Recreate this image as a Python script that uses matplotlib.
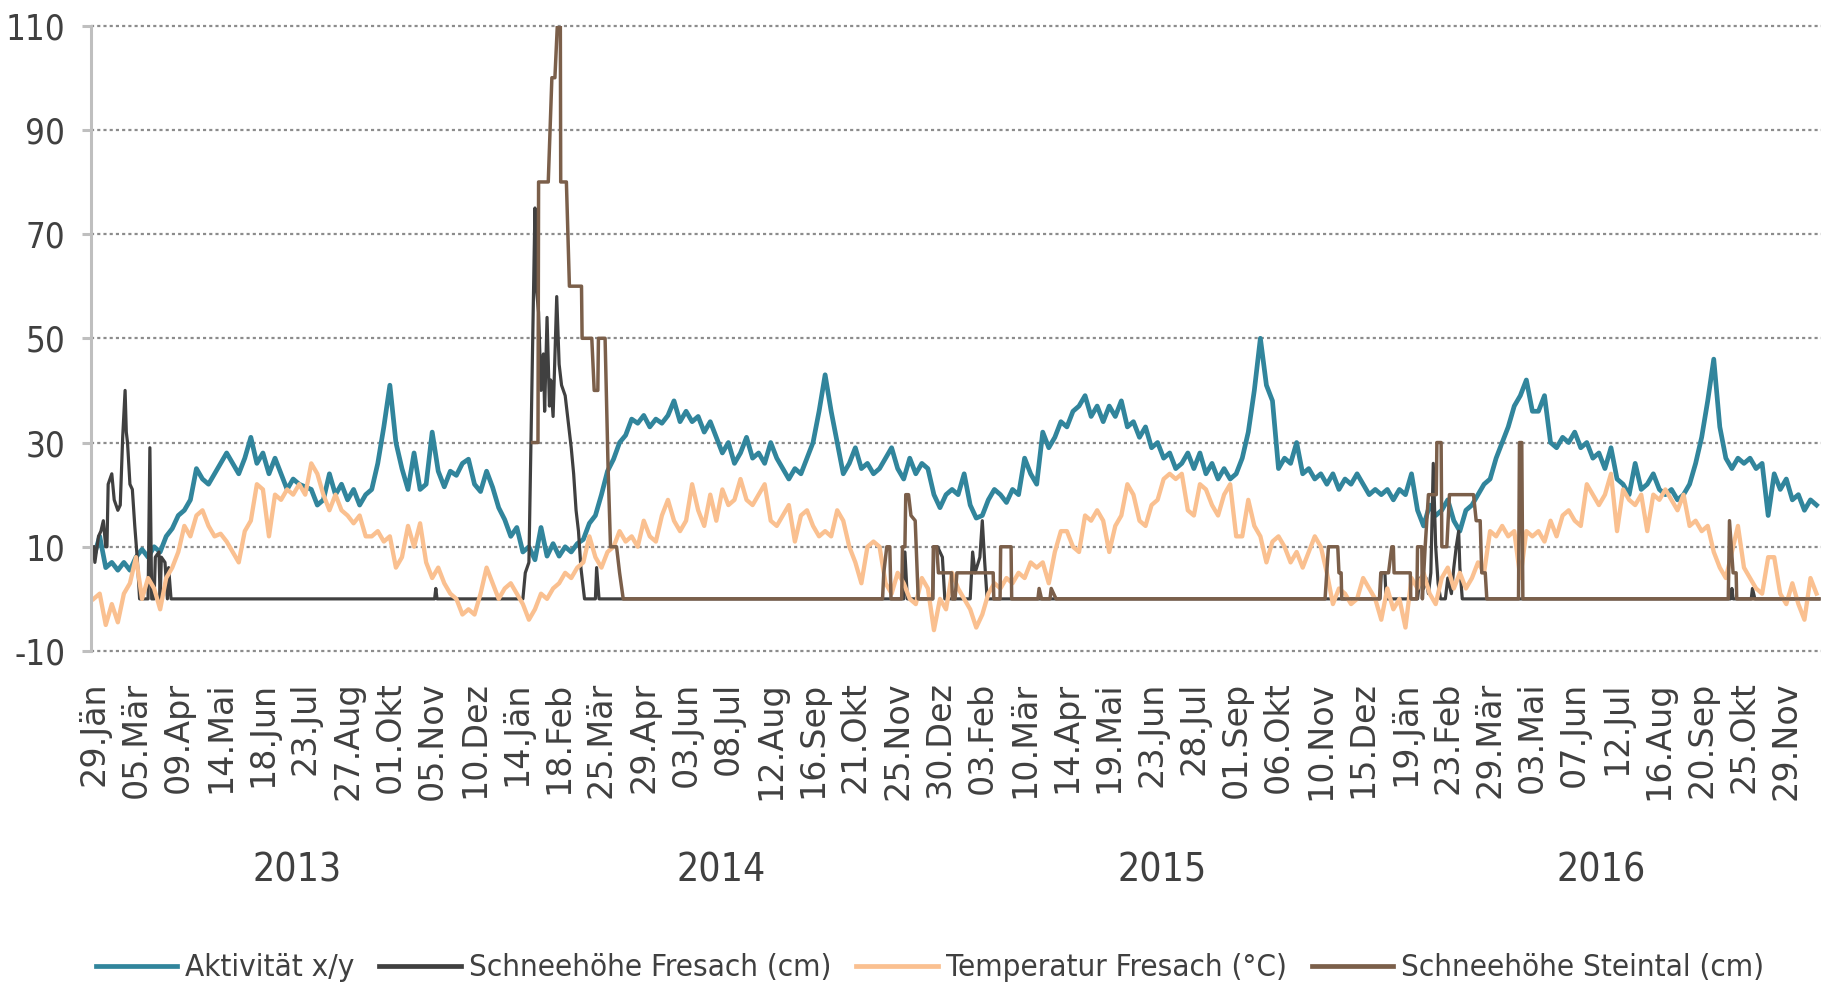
import numpy as np
import pandas as pd
import matplotlib
matplotlib.use('Agg')
import matplotlib.pyplot as plt
import matplotlib.transforms as mtransforms
from matplotlib.lines import Line2D
from matplotlib.font_manager import FontProperties

start = pd.Timestamp('2013-01-29')
ende_tag = 1427

# Aktivität x/y, ein Wert alle 5 Tage ab 29.01.2013
aktivitaet = [
    8, 12, 6, 7, 5.5, 7, 5.5, 8, 9.5, 8,
    10, 9, 12, 13.5, 16, 17, 19, 25, 23, 22,
    24, 26, 28, 26, 24, 27, 31, 26, 28, 24,
    27, 24, 21, 23, 22, 21.5, 21, 18, 19, 24,
    20, 22, 19, 21, 18, 20, 21, 26, 33, 41,
    30, 25, 21, 28, 21, 22, 32, 24.5, 21.5, 24.5,
    23.7, 26, 26.8, 22, 20.6, 24.5, 21.4, 17.5, 15.2, 12,
    13.7, 9, 10, 7.5, 13.7, 8.2, 10.6, 8.2, 10, 9,
    10.6, 11.4, 14.5, 16, 20, 24.5, 26.8, 30, 31.4, 34.5,
    33.7, 35.2, 33, 34.5, 33.7, 35.2, 38, 34, 36, 34,
    35, 32, 34, 31, 28, 30, 26, 28, 31, 27,
    28, 26, 30, 27, 25, 23, 25, 24, 27, 30,
    36, 43, 36, 30, 24, 26, 29, 25, 26, 24,
    25, 27, 29, 25, 23, 27, 24, 26, 25, 20,
    17.5, 20, 21, 20, 24, 18, 15.5, 16, 19, 21,
    20, 18.5, 21, 20, 27, 24, 22, 32, 29, 31,
    34, 33, 36, 37, 39, 35, 37, 34, 37, 35,
    38, 33, 34, 31, 33, 29, 30, 27, 28, 25,
    26, 28, 25, 28, 24, 26, 23, 25, 23, 24,
    27, 32, 40, 50, 41, 38, 25, 27, 26, 30,
    24, 25, 23, 24, 22, 24, 21, 23, 22, 24,
    22, 20, 21, 20, 21, 19, 21, 20, 24, 17,
    14, 18, 16, 17, 19, 15, 13, 17, 18, 20,
    22, 23, 27, 30, 33, 37, 39, 42, 36, 36,
    39, 30, 29, 31, 30, 32, 29, 30, 27, 28,
    25, 29, 23, 22, 20, 26, 21, 22, 24, 21,
    20, 21, 19, 20, 22, 26, 31, 38, 46, 33,
    27, 25, 27, 26, 27, 25, 26, 16, 24, 21,
    23, 19, 20, 17, 19, 18,
]

# Temperatur Fresach (°C), gleiches 5-Tage-Raster
temperatur = [
    0, 1, -5, -1, -4.5, 1, 3, 8, 0, 4,
    2, -2, 4, 6, 9, 14, 12, 16, 17, 14,
    12, 12.5, 11, 9, 7, 13, 15, 22, 21, 12,
    20, 19, 21, 20, 22, 20, 26, 24, 20, 17,
    20, 17, 16, 14.5, 16, 12, 12, 13, 11, 12,
    6, 8, 14, 10, 14.5, 7, 4, 6, 3, 1,
    0, -3, -2, -3, 1, 6, 3, 0, 2, 3,
    1, -1, -4, -2, 1, 0, 2, 3, 5, 4,
    6, 7, 12, 8, 6, 9, 10, 13, 11, 12,
    10, 15, 12, 11, 16, 19, 15, 13, 15, 22,
    17, 14, 20, 15, 21, 18, 19, 23, 19, 18,
    20, 22, 15, 14, 16, 18, 11, 16, 17, 14,
    12, 13, 12, 17, 15, 10, 7, 3, 10, 11,
    10, 3, 1, 5, 3, 0, -1, 4, 2, -6,
    0, -2, 5, 2, 0, -2, -5.5, -3, 1, 3,
    2, 4, 3, 5, 4, 7, 6, 7, 3, 9,
    13, 13, 10, 9, 16, 15, 17, 15, 9, 14,
    16, 22, 20, 15, 14, 18, 19, 23, 24, 23,
    24, 17, 16, 22, 21, 18, 16, 20, 22, 12,
    12, 19, 14, 12, 7, 11, 12, 10, 7, 9,
    6, 9, 12, 10, 5, -1, 2, 1, -1, 0,
    4, 2, 0, -4, 2, -2, 0, -5.5, 4, 2,
    5, 1, -1, 4, 6, 2, 5, 2, 4, 7,
    5, 13, 12, 14, 12, 13, 4, 13, 12, 13,
    11, 15, 12, 16, 17, 15, 14, 22, 20, 18,
    20, 24, 13, 21, 19, 18, 20, 13, 20, 19,
    21, 19, 17, 20, 14, 15, 13, 14, 9, 6,
    4, 9, 14, 6, 4, 2, 1, 8, 8, 1,
    -1, 3, -1, -4, 4, 1,
]

# Schneehöhe Fresach (cm): Tage ab 29.01.2013 und Wert
fresach_tag = (
    [0, 1, 4, 6, 8, 10, 11, 12, 15, 17, 20, 22, 24, 26, 27, 28, 30,
     32, 34, 36, 38, 45, 46.5, 48, 50, 51, 54, 55, 56, 59, 61, 62, 64]
    + [282, 283, 284]
    + [355, 357, 360, 365, 366, 368, 370, 372, 373, 375, 377, 378, 380, 383,
       385, 387, 390, 393, 395, 397, 399, 401, 403, 406, 415, 416, 418]
    + [670, 671, 673, 694, 695, 698, 702, 704, 725, 727, 729, 733, 735, 737, 739]
    + [1064, 1065, 1068, 1069, 1095, 1097, 1100, 1102, 1104, 1106, 1108,
       1110, 1112, 1114, 1118, 1120, 1123, 1125, 1127, 1129, 1130, 1132]
    + [1354, 1355, 1356, 1371, 1372, 1374, 1427]
)
fresach_cm = (
    [10, 7, 12, 13, 15, 10, 10, 22, 24, 19, 17, 18, 31, 40, 32, 30, 22,
     21, 14, 8, 0, 0, 29, 0, 0, 8, 9, 0, 8, 7, 0, 6, 0]
    + [0, 2, 0]
    + [0, 5, 7, 75, 60, 55, 40, 47, 36, 54, 37, 42, 35, 58,
       45, 41, 39, 33, 29, 24, 17, 13, 6, 0, 0, 6, 0]
    + [0, 9, 0, 0, 10, 10, 8, 0, 0, 9, 5, 8, 15, 7, 0]
    + [0, 5, 5, 0, 0, 4, 2, 4, 1, 5, 26,
       10, 3, 0, 0, 4, 1, 6, 10, 13, 6, 0]
    + [0, 2, 0, 0, 2, 0, 0]
)

# Schneehöhe Steintal (cm)
steintal_tag = (
    [363, 367.5, 368, 376, 379, 381.5, 383.5, 386, 386.3, 391, 393.5, 403.5,
     404, 412, 414, 417, 417.5, 423, 425.5, 427.5, 432.5, 435, 438]
    + [652.5, 653.5, 656, 658.5, 659.5, 668.3, 669, 671, 671.7, 674, 676,
       679.5, 682, 694, 694.5, 697.3, 698.7, 709.5, 710.3, 712.5, 714, 744,
       744.5, 749.7, 750.2, 758.8, 759.3, 781, 782, 784, 791, 792, 796]
    + [1018.5, 1021.3, 1029, 1030, 1031.8, 1032.3, 1063.5, 1064.6, 1071,
       1073.7, 1075, 1075.6, 1089, 1089.4, 1094.4, 1095, 1098.5, 1099, 1101.3,
       1104, 1110.5, 1111, 1114.5, 1115.1, 1119.2, 1121.4, 1141.3, 1143.5,
       1146.8, 1148.1, 1151, 1152.3, 1178.5, 1179.3, 1181.2, 1182.1]
    + [1352, 1353, 1356, 1358.5, 1359, 1427]
)
steintal_cm = (
    [30, 30, 80, 80, 100, 100, 110, 110, 80, 80, 60, 60,
     50, 50, 40, 40, 50, 50, 25, 10, 10, 5, 0]
    + [0, 5, 10, 10, 0, 0, 10, 10, 20, 20, 16,
       15, 0, 0, 10, 10, 5, 5, 0, 0, 5, 5,
       0, 0, 10, 10, 0, 0, 2, 0, 0, 2, 0]
    + [0, 10, 10, 5, 5, 0, 0, 5, 5,
       10, 10, 5, 5, 0, 0, 10, 10, 0, 10,
       20, 20, 30, 30, 10, 10, 20, 20, 15,
       15, 5, 5, 0, 0, 30, 30, 0]
    + [0, 15, 5, 5, 0, 0]
)

monate = ['Jän', 'Feb', 'Mär', 'Apr', 'Mai', 'Jun', 'Jul', 'Aug', 'Sep', 'Okt', 'Nov', 'Dez']
jahre = [2013, 2014, 2015, 2016]
namen = ['Aktivität x/y', 'Schneehöhe Fresach (cm)', 'Temperatur Fresach (°C)', 'Schneehöhe Steintal (cm)']
farben = ['#31859C', '#404040', '#FAC090', '#7B5F4A']

textfarbe = '#404040'


def schmal(size):
    return FontProperties(family='DejaVu Sans', stretch='condensed', size=size)


def datum(tage):
    return start + pd.to_timedelta(np.asarray(tage, dtype=float), unit='D')


raster = np.arange(len(aktivitaet)) * 5

fig = plt.figure(figsize=(18.23, 9.92), dpi=100)
ax = fig.add_axes([91 / 1823, 1 - 651 / 992, (1821 - 91) / 1823, (651 - 25.6) / 992])

ax.plot(datum(raster), aktivitaet, color=farben[0], lw=3.4, solid_joinstyle='round', label=namen[0])
ax.plot(datum(fresach_tag), fresach_cm, color=farben[1], lw=2.3, solid_joinstyle='round', label=namen[1])
ax.plot(datum(raster[:len(temperatur)]), temperatur, color=farben[2], lw=3.1, solid_joinstyle='round', label=namen[2])
ax.plot(datum(steintal_tag), steintal_cm, color=farben[3], lw=2.5, solid_joinstyle='round', label=namen[3])

ax.set_ylim(-10, 110)
ax.set_xlim(datum(-2.2), datum(1428.7))

yt = list(range(-10, 111, 20))
ax.set_yticks(yt)
ax.set_yticklabels([str(v) for v in yt], fontproperties=schmal(25), color=textfarbe)
for v in yt:
    ax.axhline(v, color='#8c8c8c', lw=1.6, ls=(0, (1.4, 1.4)), zorder=0, clip_on=False)
ax.tick_params(axis='y', length=6.5, width=2.2, color='#bfbfbf', pad=12)

for s in ['top', 'right', 'bottom']:
    ax.spines[s].set_visible(False)
ax.spines['left'].set_color('#bfbfbf')
ax.spines['left'].set_linewidth(2.2)

ticks = pd.date_range(start, periods=41, freq='35D')
ax.set_xticks(ticks)
ax.set_xticklabels(['%02d.%s' % (t.day, monate[t.month - 1]) for t in ticks],
                   rotation=90, fontsize=24, color=textfarbe, family='DejaVu Sans')
ax.tick_params(axis='x', length=0, pad=22)

# Jahreszahlen unter den Datumsbeschriftungen
trans = mtransforms.blended_transform_factory(ax.transData, fig.transFigure)
ende = datum(ende_tag)
for j in jahre:
    a = max(start, pd.Timestamp(j, 1, 1))
    b = min(ende, pd.Timestamp(j, 12, 31))
    mitte = a + (b - a) / 2
    ax.text(mitte, 1 - 870 / 992, str(j), transform=trans, ha='center', va='center',
            fontproperties=schmal(28), color=textfarbe)

griffe = [Line2D([], [], color=f, lw=3.4) for f in farben]
fig.legend(griffe, namen, loc='center', bbox_to_anchor=(930 / 1823, 1 - 968 / 992), ncol=4,
           frameon=False, prop=schmal(22.5), labelcolor=textfarbe,
           handlelength=2.6, handletextpad=0.26, columnspacing=0.8)

fig.savefig('out.png', dpi=100)
